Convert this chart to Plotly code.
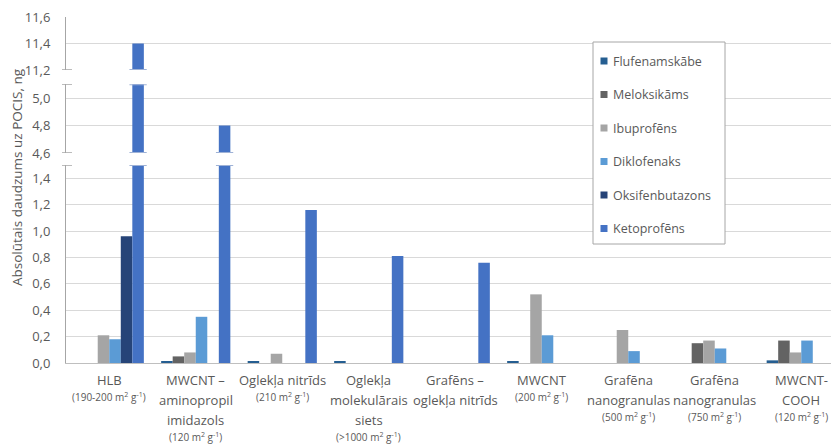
import plotly.graph_objects as go

# ---- data -------------------------------------------------------------
sorbent_names = [
    "HLB",
    "MWCNT –<br>aminopropil<br>imidazols",
    "Oglekļa nitrīds",
    "Oglekļa<br>molekulārais<br>siets",
    "Grafēns –<br>oglekļa nitrīds",
    "MWCNT",
    "Grafēna<br>nanogranulas",
    "Grafēna<br>nanogranulas",
    "MWCNT-<br>COOH",
]
surface_areas = [
    "(190-200 m<sup>2</sup> g<sup>-1</sup>)",
    "(120 m<sup>2</sup> g<sup>-1</sup>)",
    "(210 m<sup>2</sup> g<sup>-1</sup>)",
    "(>1000 m<sup>2</sup> g<sup>-1</sup>)",
    "",
    "(200 m<sup>2</sup> g<sup>-1</sup>)",
    "(500 m<sup>2</sup> g<sup>-1</sup>)",
    "(750 m<sup>2</sup> g<sup>-1</sup>)",
    "(120 m<sup>2</sup> g<sup>-1</sup>)",
]

series_names = ["Flufenamskābe", "Meloksikāms", "Ibuprofēns",
                "Diklofenaks", "Oksifenbutazons", "Ketoprofēns"]
flufenamskabe = [0, 0.01, 0.01, 0.01, 0, 0.01, 0, 0, 0.02]
meloksikams = [0, 0.05, 0, 0, 0, 0, 0, 0.15, 0.17]
ibuprofens = [0.21, 0.08, 0.07, 0, 0, 0.52, 0.25, 0.17, 0.08]
diklofenaks = [0.18, 0.35, 0, 0, 0, 0.21, 0.09, 0.11, 0.17]
oksifenbutazons = [0.96, 0, 0, 0, 0, 0, 0, 0, 0]
ketoprofens = [11.4, 4.8, 1.16, 0.81, 0.76, 0, 0, 0, 0]
series_values = [flufenamskabe, meloksikams, ibuprofens,
                 diklofenaks, oksifenbutazons, ketoprofens]
series_colors = ["#255E91", "#636363", "#A5A5A5",
                 "#5B9BD5", "#264478", "#4472C4"]

# broken value axis: three visible segments
seg_ranges = [(0.0, 1.5), (4.6, 5.1), (11.2, 11.6)]
seg_ticks = [
    [0.0, 0.2, 0.4, 0.6, 0.8, 1.0, 1.2, 1.4],
    [4.6, 4.8, 5.0],
    [11.2, 11.4, 11.6],
]

y_title = "Absolūtais daudzums uz POCIS, ng"

# ---- layout geometry (pixels) -------------------------------------------
W, H = 831, 444
L, T, B = 66, 17, 363
PW, PH = W - L, B - T
CAT_PX = 86.5
BARGAP = 0.2


def px(x):
    return (x - L) / PW


def py(y):
    return (B - y) / PH


seg_domains = [(py(363), py(165)), (py(153), py(84.25)), (py(70), 1.0)]
axis_ids = ["y", "y2", "y3"]

FONT = "Open Sans"
GREY_TXT = "#595959"

fig = go.Figure()

x_idx = list(range(len(sorbent_names)))
for seg, yid in enumerate(axis_ids):
    for name, vals, col in zip(series_names, series_values, series_colors):
        fig.add_trace(go.Bar(
            x=x_idx, y=vals, name=name, yaxis=yid,
            marker=dict(color=col, line=dict(width=0)),
            showlegend=False, hoverinfo="skip", cliponaxis=True,
        ))

layout_axes = {}
for seg, yid in enumerate(axis_ids):
    key = "yaxis" if seg == 0 else f"yaxis{seg + 1}"
    lo, hi = seg_ranges[seg]
    layout_axes[key] = dict(
        domain=list(seg_domains[seg]),
        range=[lo, hi],
        tickmode="array",
        tickvals=seg_ticks[seg],
        tickformat=".1f",
        showgrid=True, gridcolor="#D9D9D9", gridwidth=1,
        zeroline=False,
        showline=True, linecolor="#A6A6A6", linewidth=1,
        ticks="", ticklabelstandoff=12,
        tickfont=dict(family=FONT, size=13, color=GREY_TXT),
        anchor="x",
    )

fig.update_layout(
    width=W, height=H,
    margin=dict(l=L, r=0, t=T, b=H - B),
    paper_bgcolor="white", plot_bgcolor="white",
    barmode="group", bargap=BARGAP, bargroupgap=0,
    separators=", ",
    showlegend=False,
    xaxis=dict(
        range=[-0.5, -0.5 + PW / CAT_PX],
        showticklabels=False, ticks="", showgrid=False, zeroline=False,
        showline=True, linecolor="#BFBFBF", linewidth=1,
        anchor="y",
    ),
    **layout_axes,
)

shapes = []
annotations = []

# break caps on the value axis
cap_color_axis = "#A6A6A6"
for seg, yid in enumerate(axis_ids):
    lo, hi = seg_ranges[seg]
    ends = []
    if seg > 0:
        ends.append(lo)
    if seg < len(axis_ids) - 1:
        ends.append(hi)
    for v in ends:
        shapes.append(dict(type="line", xref="paper", yref=yid,
                           x0=px(62), x1=px(72), y0=v, y1=v,
                           line=dict(color=cap_color_axis, width=1.5)))

# break caps on bars that cross a break
n_ser = len(series_names)
bar_w = (1 - BARGAP) / n_ser
for k, vals in enumerate(series_values):
    offset = -0.5 * (1 - BARGAP) + (k + 0.5) * bar_w
    for i, v in enumerate(vals):
        for seg, yid in enumerate(axis_ids):
            lo, hi = seg_ranges[seg]
            if seg > 0 and v > lo:
                shapes.append(dict(type="line", xref="x", yref=yid,
                                   x0=i + offset - 0.1, x1=i + offset + 0.1,
                                   y0=lo, y1=lo,
                                   line=dict(color="#9FB2D6", width=2)))
            if seg < len(axis_ids) - 1 and v > hi:
                shapes.append(dict(type="line", xref="x", yref=yid,
                                   x0=i + offset - 0.1, x1=i + offset + 0.1,
                                   y0=hi, y1=hi,
                                   line=dict(color="#9FB2D6", width=2)))

# category labels
for i, (nm, sub) in enumerate(zip(sorbent_names, surface_areas)):
    lines = nm.split("<br>")
    y_line = 380
    for j, ln in enumerate(lines):
        y_line = 380 + 20 * j
        annotations.append(dict(
            x=i, xref="x", y=0, yref="paper", yshift=-(y_line - B),
            text=ln, showarrow=False, xanchor="center", yanchor="middle",
            font=dict(family=FONT, size=13, color=GREY_TXT)))
    if sub:
        annotations.append(dict(
            x=i, xref="x", y=0, yref="paper", yshift=-(y_line + 17 - B),
            text=sub, showarrow=False, xanchor="center", yanchor="middle",
            font=dict(family=FONT, size=10, color=GREY_TXT)))

# value axis title
annotations.append(dict(
    x=px(17), xref="paper", y=py(177), yref="paper",
    text=y_title, textangle=-90, showarrow=False,
    xanchor="center", yanchor="middle",
    font=dict(family=FONT, size=13.5, color=GREY_TXT)))

# legend box
shapes.append(dict(type="rect", xref="paper", yref="paper",
                   x0=px(593), x1=px(725), y0=py(244), y1=py(42),
                   line=dict(color="#A6A6A6", width=1), fillcolor="white",
                   layer="above"))
for k, (nm, col) in enumerate(zip(series_names, series_colors)):
    yc = 61 + 33.5 * k
    shapes.append(dict(type="rect", xref="paper", yref="paper",
                       x0=px(600.5), x1=px(607.5), y0=py(yc + 3.5), y1=py(yc - 3.5),
                       line=dict(width=0), fillcolor=col, layer="above"))
    annotations.append(dict(
        x=px(611), xref="paper", y=py(yc), yref="paper",
        text=nm, showarrow=False, xanchor="left", yanchor="middle",
        font=dict(family=FONT, size=12.5, color=GREY_TXT)))

fig.update_layout(shapes=shapes, annotations=annotations)

fig.write_html("out.html")
